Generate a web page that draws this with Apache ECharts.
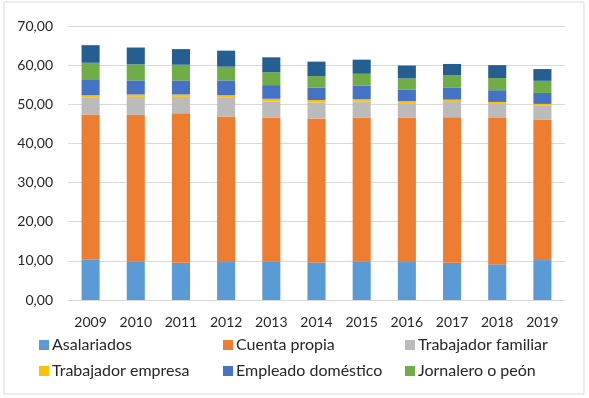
<!DOCTYPE html>
<html>
<head>
<meta charset="utf-8">
<script src="https://cdn.jsdelivr.net/npm/echarts@6/dist/echarts.min.js"></script>
<style>
  html, body { margin: 0; padding: 0; background: #fff; }
  #chart { width: 589px; height: 398px; }
</style>
</head>
<body>
<div id="chart"></div>
<script>
const years = ['2009', '2010', '2011', '2012', '2013', '2014', '2015', '2016', '2017', '2018', '2019']

// valores (porcentaje)
const asalariados = [10.4, 9.8, 9.5, 9.7, 9.9, 9.6, 9.9, 9.7, 9.5, 9.1, 10.2]
const cuentaPropia = [37.0, 37.5, 38.2, 37.2, 36.7, 36.8, 36.7, 36.9, 37.2, 37.4, 35.9]
const trabFamiliar = [4.4, 4.6, 4.2, 4.9, 4.1, 4.1, 4.1, 3.7, 3.9, 3.8, 3.5]
const trabEmpresa = [0.5, 0.6, 0.6, 0.5, 0.7, 0.6, 0.6, 0.5, 0.6, 0.3, 0.5]
const empDomestico = [3.9, 3.6, 3.6, 3.8, 3.5, 3.2, 3.5, 3.0, 3.0, 3.0, 2.8]
const jornalero = [4.4, 4.1, 4.0, 3.5, 3.3, 2.9, 3.0, 2.8, 3.2, 3.1, 3.1]
const otros = [4.5, 4.3, 4.0, 4.1, 3.8, 3.7, 3.6, 3.3, 2.9, 3.3, 3.0]

const yTicks = { min: 0, max: 70, interval: 10 }

const seriesDefs = [
  { name: 'Asalariados', data: asalariados, color: '#5B9BD5' },
  { name: 'Cuenta propia', data: cuentaPropia, color: '#ED7D31' },
  { name: 'Trabajador familiar', data: trabFamiliar, color: '#BBBBBB' },
  { name: 'Trabajador empresa', data: trabEmpresa, color: '#FFC000' },
  { name: 'Empleado doméstico', data: empDomestico, color: '#4472C4' },
  { name: 'Jornalero o peón', data: jornalero, color: '#70AD47' },
  { name: 'Otros', data: otros, color: '#255E91' },
]

const font = 'Lato, "Open Sans", sans-serif'
const textColor = '#262626'

const chart = echarts.init(document.getElementById('chart'), null, { renderer: 'canvas' })

function legendCol(left, names) {
  return {
    orient: 'vertical',
    left: left,
    top: 337,
    padding: 0,
    itemWidth: 10,
    itemHeight: 10,
    itemGap: 10,
    icon: 'rect',
    data: names,
    textStyle: { fontFamily: font, fontSize: 16, color: textColor, padding: [0, 0, 0, -2] },
  }
}

const option = {
  backgroundColor: '#fff',
  animation: false,
  graphic: [{
    type: 'rect',
    shape: { x: 4, y: 2, width: 580, height: 392 },
    style: { fill: 'none', stroke: '#D9D9D9', lineWidth: 1 },
  }],
  grid: { left: 68, right: 24, top: 26, bottom: 98 },
  legend: [
    legendCol(39, ['Asalariados', 'Trabajador empresa']),
    legendCol(223, ['Cuenta propia', 'Empleado doméstico']),
    legendCol(405, ['Trabajador familiar', 'Jornalero o peón']),
  ],
  xAxis: {
    type: 'category',
    data: years,
    axisLine: { lineStyle: { color: '#D9D9D9' } },
    axisTick: { show: false },
    axisLabel: { fontFamily: font, fontSize: 14, color: textColor, margin: 15 },
  },
  yAxis: {
    type: 'value',
    min: yTicks.min,
    max: yTicks.max,
    interval: yTicks.interval,
    axisLine: { show: false },
    axisTick: { show: false },
    splitLine: { lineStyle: { color: '#D9D9D9' } },
    axisLabel: {
      fontFamily: font, fontSize: 14, color: textColor, margin: 15,
      formatter: v => v.toFixed(2).replace('.', ','),
    },
  },
  series: seriesDefs.map(s => ({
    name: s.name,
    type: 'bar',
    stack: 'total',
    data: s.data,
    barWidth: '40%',
    itemStyle: { color: s.color },
  })),
}

chart.setOption(option)
</script>
</body>
</html>
